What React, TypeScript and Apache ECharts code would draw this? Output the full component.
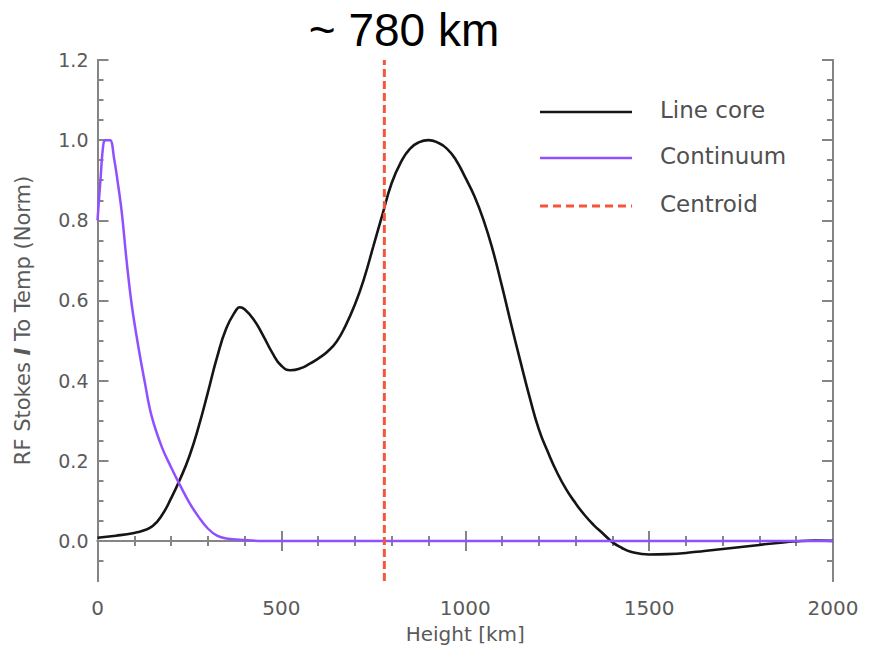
import React, { useEffect, useRef } from "react";
import * as echarts from "echarts";

const lineCoreHeight = [0, 50, 100, 125, 150, 175, 200, 225, 250, 275, 300, 325, 350, 375, 387, 400, 425, 450, 475, 500, 525, 550, 575, 600, 625, 650, 675, 700, 725, 750, 775, 800, 825, 850, 875, 900, 925, 950, 975, 1000, 1025, 1050, 1075, 1100, 1125, 1150, 1175, 1200, 1225, 1250, 1275, 1300, 1325, 1350, 1375, 1400, 1425, 1450, 1500, 1550, 1600, 1650, 1700, 1750, 1800, 1850, 1900, 1950, 2000];
const lineCoreValue = [0.008, 0.013, 0.02, 0.026, 0.037, 0.064, 0.106, 0.155, 0.212, 0.285, 0.37, 0.458, 0.53, 0.573, 0.583, 0.578, 0.552, 0.513, 0.47, 0.437, 0.426, 0.43, 0.441, 0.455, 0.472, 0.497, 0.538, 0.59, 0.655, 0.735, 0.815, 0.893, 0.945, 0.979, 0.995, 1.0, 0.994, 0.979, 0.95, 0.907, 0.86, 0.8, 0.725, 0.635, 0.54, 0.448, 0.359, 0.279, 0.221, 0.17, 0.128, 0.094, 0.064, 0.039, 0.018, -0.003, -0.017, -0.027, -0.034, -0.033, -0.03, -0.025, -0.02, -0.015, -0.01, -0.005, -0.001, 0.001, 0.0];

const continuumHeight = [0, 8, 16, 22, 34, 45, 55, 66, 79, 93, 111, 129, 147, 175, 200, 225, 250, 275, 300, 325, 350, 400, 450, 1000, 1500, 2000];
const continuumValue = [0.8, 0.9, 0.99, 1.0, 1.0, 0.955, 0.895, 0.82, 0.7, 0.59, 0.485, 0.394, 0.312, 0.234, 0.184, 0.138, 0.095, 0.06, 0.031, 0.013, 0.006, 0.002, 0, 0, 0, 0];

const centroidHeight = 780;
const yMin = -0.1;
const yMax = 1.2;
const yTickLabels = [0, 0.2, 0.4, 0.6, 0.8, 1.0, 1.2];
const xTickInterval = 500;

const legendNames = ["Line core", "Continuum", "Centroid"];
const legendColors = ["#151515", "#9150ff", "#f5553a"];

const yMinorTicks: number[] = [];
for (let i = -2; i <= 24; i++) {
  const v = Math.round(i * 5) / 100;
  if (i % 4 !== 0 && v > yMin && v < yMax) yMinorTicks.push(v);
}

const AXIS_COLOR = "#858585";
const LABEL_COLOR = "#5a5a5a";
const FONT = "DejaVu Sans";

export default function App() {
  const ref = useRef<HTMLDivElement>(null);
  useEffect(() => {
    if (!ref.current) return;
    const chart = echarts.init(ref.current, undefined, { renderer: "svg" });
    const zip = (xs: number[], ys: number[]) => xs.map((x, i) => [x, ys[i]]);
    const axisLine = { show: true, lineStyle: { color: AXIS_COLOR, width: 2 } };
    const yAxisBase = {
      type: "value" as const,
      min: yMin,
      max: yMax,
      splitLine: { show: false },
      axisLine,
    };
    const yMajor = (position: "left" | "right", withLabels: boolean) => ({
      ...yAxisBase,
      position,
      axisTick: { show: true, inside: true, length: 11, customValues: yTickLabels, lineStyle: { color: AXIS_COLOR, width: 2 } },
      axisLabel: withLabels
        ? {
            show: true,
            customValues: yTickLabels,
            margin: 9,
            fontSize: 19,
            fontFamily: FONT,
            color: LABEL_COLOR,
            formatter: (v: number) => v.toFixed(1),
          }
        : { show: false },
    });
    const yMinor = (position: "left" | "right") => ({
      ...yAxisBase,
      position,
      axisTick: { show: true, inside: true, length: 6, customValues: yMinorTicks, lineStyle: { color: AXIS_COLOR, width: 2 } },
      axisLabel: { show: false },
    });
    const xAxisFor = (position: "bottom" | "top", withLabels: boolean) => ({
      type: "value" as const,
      position,
      min: 0,
      max: 2000,
      interval: xTickInterval,
      splitLine: { show: false },
      axisLine,
      axisTick: { show: true, inside: true, length: 10, lineStyle: { color: AXIS_COLOR, width: 2 } },
      minorTick: { show: true, splitNumber: 5, length: 5, lineStyle: { color: AXIS_COLOR, width: 2 } },
      minorSplitLine: { show: false },
      axisLabel: withLabels
        ? { show: true, margin: 17, fontSize: 20, fontFamily: FONT, color: LABEL_COLOR, formatter: (v: number) => String(v) }
        : { show: false },
      ...(withLabels
        ? {
            name: "Height [km]",
            nameLocation: "middle" as const,
            nameGap: 43,
            nameTextStyle: { fontSize: 20, fontFamily: FONT, color: LABEL_COLOR },
          }
        : {}),
    });

    const yMain: any = yMajor("left", true);
    yMain.name = "RF Stokes {i|I} To Temp (Norm)";
    yMain.nameLocation = "middle";
    yMain.nameGap = 64;
    yMain.nameTextStyle = {
      fontSize: 21,
      fontFamily: FONT,
      color: LABEL_COLOR,
      rich: {
        i: { fontSize: 21, fontFamily: FONT, color: LABEL_COLOR, fontStyle: "italic", fontWeight: "bold" },
      },
    };

    const legendGraphics: any[] = [];
    const legendY = [112, 158, 206];
    legendNames.forEach((name, i) => {
      legendGraphics.push({
        type: "line",
        shape: { x1: 540, y1: legendY[i], x2: 632, y2: legendY[i] },
        style: {
          stroke: legendColors[i],
          lineWidth: i === 2 ? 3 : 2.5,
          lineDash: i === 2 ? [8, 5] : null,
        },
      });
      legendGraphics.push({
        type: "text",
        x: 660,
        y: legendY[i] - 2,
        style: {
          text: name,
          align: "left",
          verticalAlign: "middle",
          fontSize: 23,
          fontFamily: FONT,
          fill: "#505050",
        },
      });
    });

    chart.setOption({
      animation: false,
      backgroundColor: "#ffffff",
      grid: { left: 97.5, right: 46, top: 60, bottom: 71, containLabel: false, outerBoundsMode: "none" },
      xAxis: [xAxisFor("bottom", true), xAxisFor("top", false)],
      yAxis: [yMain, yMinor("left"), yMajor("right", false), yMinor("right")],
      graphic: [
        {
          type: "text",
          x: 404,
          y: 7,
          style: {
            text: "~ 780 km",
            align: "center",
            verticalAlign: "top",
            fontSize: 46,
            fontFamily: "Liberation Sans",
            fill: "#000000",
          },
        },
        ...legendGraphics,
      ],
      series: [
        {
          name: legendNames[0],
          type: "line",
          data: zip(lineCoreHeight, lineCoreValue),
          symbol: "none",
          smooth: 0.5,
          lineStyle: { color: legendColors[0], width: 2.6 },
          itemStyle: { color: legendColors[0] },
        },
        {
          name: legendNames[1],
          type: "line",
          data: zip(continuumHeight, continuumValue),
          symbol: "none",
          smooth: 0.4,
          lineStyle: { color: legendColors[1], width: 2.5 },
          itemStyle: { color: legendColors[1] },
        },
        {
          name: legendNames[2],
          type: "line",
          data: [
            [centroidHeight, yMin],
            [centroidHeight, yMax],
          ],
          symbol: "none",
          lineStyle: { color: legendColors[2], width: 3, type: [8, 4] },
          itemStyle: { color: legendColors[2] },
        },
      ],
    });
    return () => chart.dispose();
  }, []);
  return <div ref={ref} style={{ position: "fixed", left: 0, top: 0, width: 879, height: 652 }} />;
}
